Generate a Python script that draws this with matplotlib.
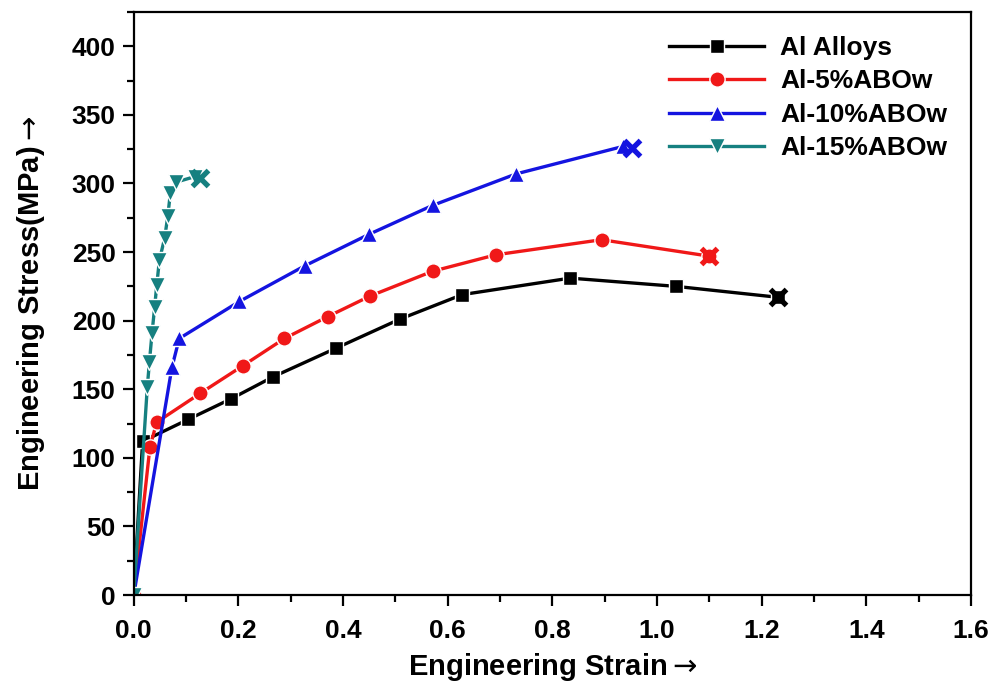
import matplotlib.pyplot as plt
from matplotlib.ticker import MultipleLocator

plt.rcParams['font.family'] = ['Liberation Sans', 'DejaVu Sans']

# Al alloys
strain_al = [0, 0.017, 0.104, 0.186, 0.266, 0.387, 0.508, 0.628, 0.834, 1.036, 1.232]
stress_al = [0, 112, 128, 143, 159, 180, 201, 219, 231, 225, 217]
# Al-5%ABOw
strain_5 = [0, 0.031, 0.044, 0.127, 0.208, 0.288, 0.371, 0.452, 0.571, 0.692, 0.894, 1.100]
stress_5 = [0, 108, 126, 147, 167, 187, 203, 218, 236, 248, 259, 247]
# Al-10%ABOw
strain_10 = [0, 0.073, 0.087, 0.202, 0.327, 0.450, 0.571, 0.731, 0.935]
stress_10 = [0, 166, 187, 214, 240, 263, 284, 307, 327]
# Al-15%ABOw
strain_15 = [0, 0.026, 0.030, 0.035, 0.040, 0.044, 0.049, 0.059, 0.065, 0.070, 0.081, 0.117]
stress_15 = [0, 152, 170, 191, 210, 226, 244, 260, 276, 293, 301, 305]

# fracture points
fracture_x = [1.232, 1.100, 0.953, 0.127]
fracture_y = [217, 247, 326, 304]

colors = ['black', '#f01818', '#1414e0', '#168080']
labels = ['Al Alloys', 'Al-5%ABOw', 'Al-10%ABOw', 'Al-15%ABOw']
markers = ['s', 'o', '^', 'v']
msizes = [10, 11, 12, 12]

fig = plt.figure(figsize=(9.98, 6.89), dpi=100)
ax = fig.add_axes([0.134, 0.1364, 0.839, 0.8462])

series = [(strain_al, stress_al), (strain_5, stress_5), (strain_10, stress_10), (strain_15, stress_15)]
for (x, y), c, lab, m, ms in zip(series, colors, labels, markers, msizes):
    ax.plot(x, y, color=c, lw=2.4, marker=m, ms=ms, mec='white', mew=1.0, label=lab)

for fx, fy, c in zip(fracture_x, fracture_y, colors):
    ax.plot(fx, fy, marker='x', color=c, ms=12, mew=3.8, ls='none')

ax.set_xlim(0, 1.6)
ax.set_ylim(0, 425)
ax.xaxis.set_major_locator(MultipleLocator(0.2))
ax.xaxis.set_minor_locator(MultipleLocator(0.1))
ax.yaxis.set_minor_locator(MultipleLocator(25))
ax.set_yticks(range(0, 401, 50))
ax.tick_params(which='major', direction='out', length=8, width=1.6, labelsize=19, pad=5)
ax.tick_params(axis='x', which='major', pad=9)
ax.tick_params(which='minor', direction='out', length=5, width=1.6)
for lab in ax.get_xticklabels() + ax.get_yticklabels():
    lab.set_fontweight('bold')
for s in ax.spines.values():
    s.set_linewidth(1.6)

ax.set_xlabel('Engineering Strain$\\rightarrow$', fontsize=21, fontweight='bold', labelpad=6)
ax.set_ylabel('Engineering Stress(MPa)$\\rightarrow$', fontsize=21, fontweight='bold', labelpad=18)

leg = ax.legend(loc='upper right', frameon=False, handlelength=3.6, handletextpad=0.6,
                prop={'weight': 'bold', 'size': 19},
                labelspacing=0.36, borderaxespad=0.5)

fig.savefig('out.png', dpi=100)
